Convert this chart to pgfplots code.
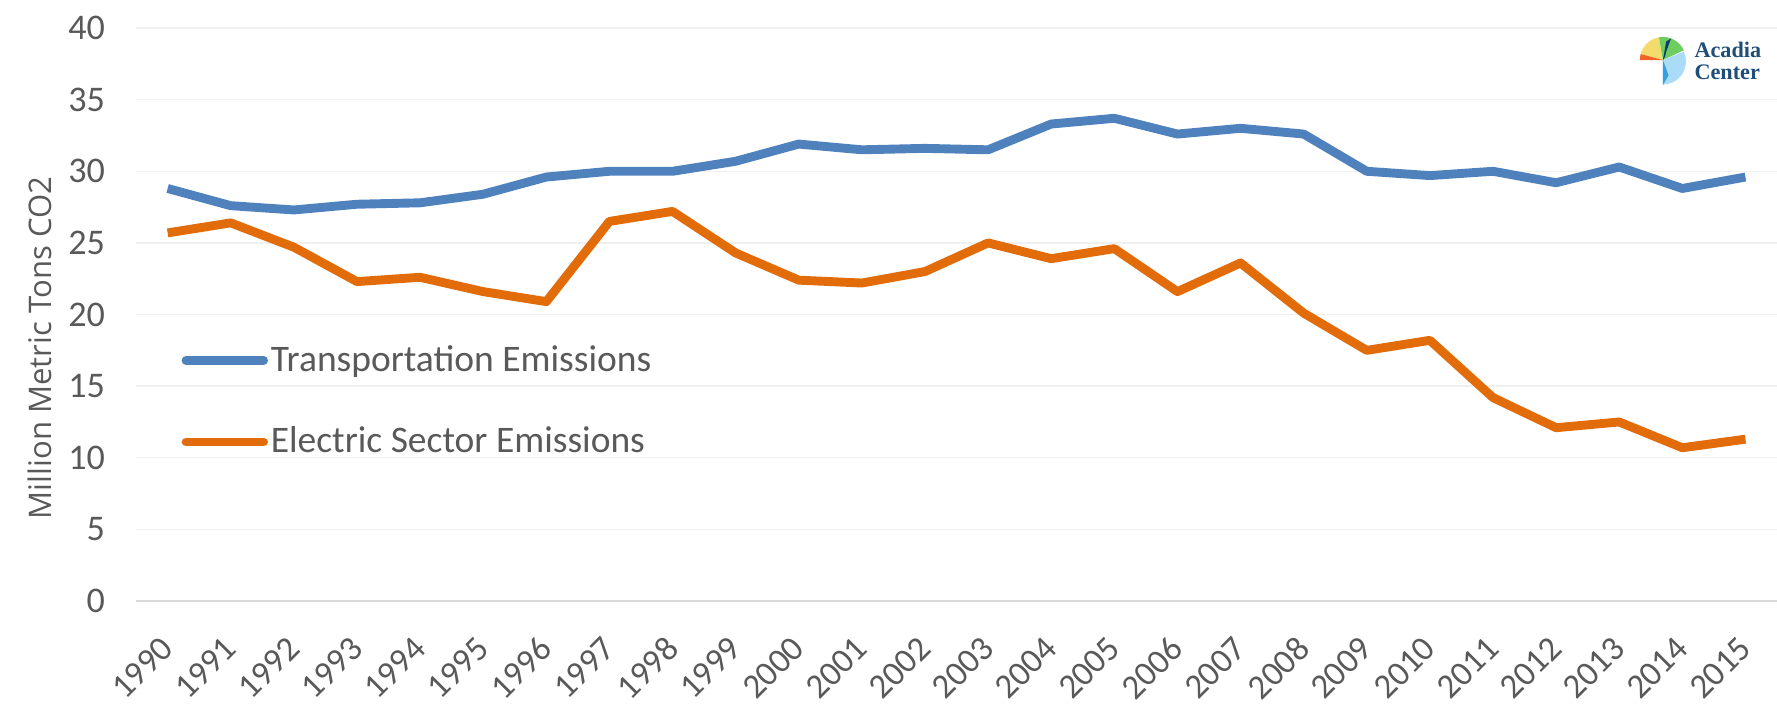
\documentclass[border=0pt]{standalone}
\usepackage{fontspec}
\setmainfont{Carlito}
\newfontfamily\ylabfont{Open Sans}
\newfontfamily\logofont{Liberation Serif}
\usepackage{pgfplots}
\usepackage{pgfplotstable}
\pgfplotsset{compat=1.18}
\definecolor{tblue}{RGB}{79,129,189}
\definecolor{eorange}{RGB}{227,108,10}
\definecolor{txtgray}{RGB}{89,89,89}
\definecolor{gridgray}{RGB}{240,240,240}
\definecolor{axgray}{RGB}{217,217,217}
\definecolor{logoblue}{RGB}{31,78,121}
\definecolor{lyellow}{RGB}{243,220,107}
\definecolor{lorange}{RGB}{240,100,40}
\definecolor{lgreen}{RGB}{110,205,95}
\definecolor{lnavy}{RGB}{12,59,107}
\definecolor{llblue}{RGB}{170,220,247}
\definecolor{lmblue}{RGB}{50,160,225}

\pgfplotstableread{
idx year trans elec
0  1990 28.8 25.7
1  1991 27.6 26.4
2  1992 27.3 24.7
3  1993 27.7 22.3
4  1994 27.8 22.6
5  1995 28.4 21.6
6  1996 29.6 20.9
7  1997 30.0 26.5
8  1998 30.0 27.2
9  1999 30.7 24.3
10 2000 31.9 22.4
11 2001 31.5 22.2
12 2002 31.6 23.0
13 2003 31.5 25.0
14 2004 33.3 23.9
15 2005 33.7 24.6
16 2006 32.6 21.6
17 2007 33.0 23.6
18 2008 32.6 20.1
19 2009 30.0 17.5
20 2010 29.7 18.2
21 2011 30.0 14.2
22 2012 29.2 12.1
23 2013 30.3 12.5
24 2014 28.8 10.7
25 2015 29.6 11.3
}\datatable

\begin{document}
\begin{tikzpicture}
\begin{axis}[
  scale only axis, width=590.8pt, height=206.3pt,
  xmin=-0.5, xmax=25.5, ymin=0, ymax=40,
  xtick={0,...,25},
  xticklabels={1990,1991,1992,1993,1994,1995,1996,1997,1998,1999,2000,2001,2002,2003,2004,2005,2006,2007,2008,2009,2010,2011,2012,2013,2014,2015},
  ytick={0,5,...,40},
  ymajorgrids, grid style={gridgray, line width=0.5pt},
  major tick length=0pt,
  axis x line*=bottom, axis y line*=left,
  x axis line style={axgray, line width=0.9pt, -},
  y axis line style={draw=none},
  /pgf/number format/assume math mode=true,
  yticklabel style={font=\fontsize{13}{15}\selectfont, text=txtgray, inner sep=0pt, xshift=-11pt},
  xticklabel style={font=\fontsize{12.5}{14}\selectfont, text=txtgray, rotate=45, anchor=east, inner sep=0pt},
  xticklabel shift=15pt,
  ylabel={Million Metric Tons CO2},
  every axis y label/.style={at={(rel axis cs:-0.0586,0.4415)}, rotate=90, anchor=center, font=\ylabfont\fontsize{11.2}{13}\selectfont, text=txtgray},
  legend style={draw=none, fill=none, at={(rel axis cs:0.0274,0.452)}, anchor=north west, font=\fontsize{13.5}{15}\selectfont, text=txtgray, row sep=16.5pt, inner sep=0pt, nodes={inner sep=1pt}},
  legend cell align=left,
  legend image code/.code={\draw[#1, line width=3.2pt, line cap=round] (1.6pt,0pt) -- (29.5pt,0pt);},
  clip=false,
]
\addplot[tblue, line width=3.2pt, line join=round] table[x=idx, y=trans]{\datatable};
\addlegendentry{Transportation Emissions}
\addplot[eorange, line width=3.2pt, line join=round] table[x=idx, y=elec]{\datatable};
\addlegendentry{Electric Sector Emissions}
% logo
\coordinate (lc) at (rel axis cs:0.9305,0.9442);
\fill[lyellow] (lc) -- ++(100:8.3pt) arc[start angle=100, end angle=165, radius=8.3pt] -- cycle;
\fill[lorange] (lc) -- ++(165:8.3pt) arc[start angle=165, end angle=180, radius=8.3pt] -- cycle;
\fill[lgreen] (lc) -- ++(25:8.3pt) arc[start angle=25, end angle=100, radius=8.3pt] -- cycle;
\fill[llblue] (lc) -- ++(-90:8.8pt) arc[start angle=-90, end angle=25, radius=8.3pt] -- cycle;
\fill[lnavy] (lc) -- ++(75:6.5pt) -- ++(-100:5pt) -- cycle;
\fill[lnavy] (lc) -- ++(80:6.8pt) -- ++(30:2pt) -- cycle;
\fill[lmblue] (lc) -- ++(-90:9pt) -- ++(60:4pt) -- cycle;
\node[anchor=west, font=\logofont\bfseries\fontsize{8}{9}\selectfont, text=logoblue, align=left, inner sep=0pt] at (rel axis cs:0.9494,0.9425) {Acadia\\[-1pt]Center};
\coordinate (bl) at (rel axis cs:0,0);
\end{axis}
\pgfresetboundingbox
\path[use as bounding box] (bl) ++(-49pt,-37.4pt) rectangle ++(639.8pt,253.8pt);
\end{tikzpicture}
\end{document}
